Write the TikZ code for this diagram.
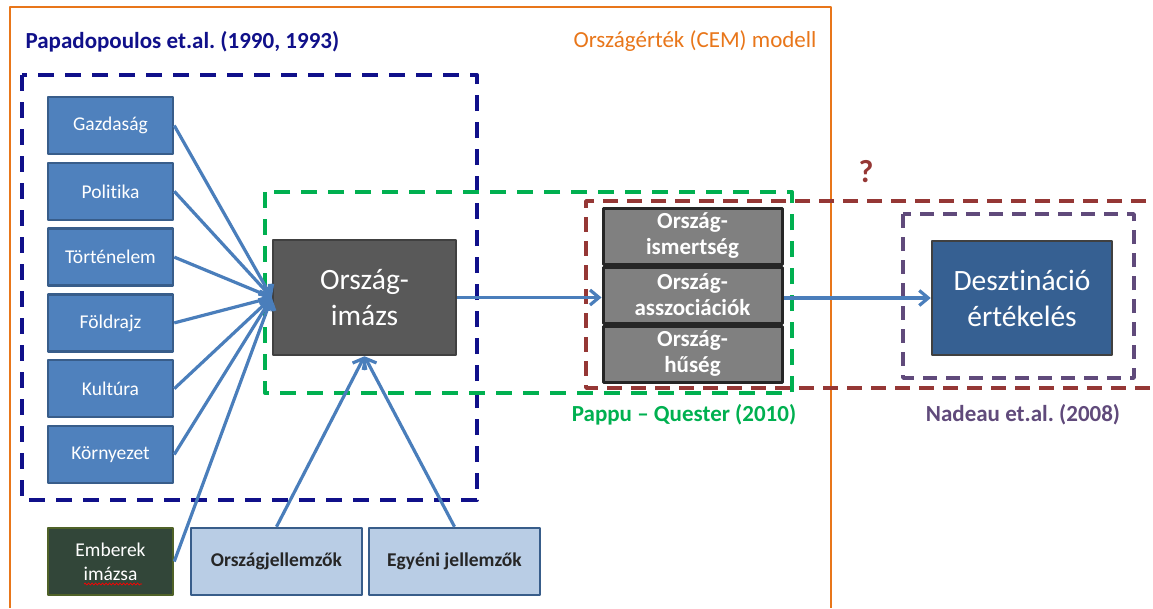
\documentclass[tikz,border=0pt]{standalone}
\usepackage{fontspec}
\setmainfont{Carlito}[Ligatures=NoCommon]
\frenchspacing
\usetikzlibrary{arrows.meta,decorations.pathmorphing}
\definecolor{nyil}{HTML}{4A7EBB}
\definecolor{kek}{HTML}{4F81BD}
\definecolor{kekkeret}{HTML}{385D8A}
\definecolor{halvany}{HTML}{B9CDE5}
\definecolor{sotetkek}{HTML}{366092}
\definecolor{navy}{HTML}{10108A}
\definecolor{zold}{HTML}{00B050}
\definecolor{bordo}{HTML}{953735}
\definecolor{lila}{HTML}{604A7B}
\definecolor{narancs}{HTML}{E8761A}
\definecolor{emberzold}{HTML}{324639}
\definecolor{olajzold}{HTML}{4F6228}
\begin{document}
\begin{tikzpicture}[x=1pt,y=-1pt,line join=round,>={Straight Barb[length=9pt,width=15pt]},
	tenyezo/.style={draw=kekkeret,line width=2.5pt,fill=kek,text=white,minimum width=125pt,minimum height=57pt,inner sep=0pt,font=\fontsize{19.5}{24}\selectfont},
	also/.style={draw=kekkeret,line width=2.5pt,fill=halvany,text=black!85,minimum width=171pt,minimum height=67pt,inner sep=0pt,font=\bfseries\fontsize{19.5}{24}\selectfont},
	nagy/.style={draw=black!75,line width=2.5pt,text=white,minimum width=183pt,minimum height=115pt,inner sep=0pt,align=center,font=\fontsize{29.5}{36}\selectfont},
	rakas/.style={draw=black!85,line width=3pt,fill=black!50,text=white,minimum width=179pt,minimum height=56pt,inner sep=0pt,align=center,font=\bfseries\fontsize{23}{26}\selectfont},
	keret/.style={line width=4pt,dash pattern=on 16pt off 11pt},
	felirat/.style={font=\bfseries\fontsize{23}{28}\selectfont},
	fonyil/.style={->,nyil,line width=3.2pt}]
	\useasboundingbox (0,0) rectangle (1153,608);
	% orszagertek keret
	\draw[narancs,line width=2.5pt] (10,608) |- (831,7) -- (831,608);
	\node[anchor=east,text=narancs,font=\fontsize{23}{28}\selectfont] (cem) at (820,41) {Országérték (CEM) modell};
	\node[anchor=west,text=navy,felirat] (papa) at (22,42) {Papadopoulos et.al. (1990, 1993)};
	% szaggatott keretek
	\draw[keret,navy] (22,75) rectangle (477,500);
	\draw[keret,zold] (265,192) rectangle (792,393);
	\draw[bordo,line width=3.5pt,dash pattern=on 15pt off 9pt] (1170,201) -| (586,388) -- (1170,388);
	\draw[lila,line width=3.5pt,dash pattern=on 14pt off 9pt] (903,214) rectangle (1134,378);
	\node[text=bordo,font=\bfseries\fontsize{32}{36}\selectfont] (kerdes) at (866,172) {?};
	\node[text=zold,felirat] (pappu) at (684,415) {Pappu -- Quester (2010)};
	\node[text=lila,felirat] (nadeau) at (1023,415) {Nadeau et.al. (2008)};
	% csomopontok
	\node[nagy,fill=black!65] (imazs) at (364.5,297.5) {Ország-\\imázs};
	\foreach \i/\t in {0/Gazdaság,1/Politika,2/Történelem,3/Földrajz,4/Kultúra,5/Környezet}{
		\node[tenyezo] (f\i) at (110.5,125.5+65.8*\i) {\t};
		\draw[fonyil] (f\i.east) -- (imazs.west);
	}
	\node[tenyezo,draw=olajzold,fill=emberzold,minimum height=67pt,align=center] (ember) at (110.5,561.5) {Emberek\\imázsa};
	\draw[red,line width=0.7pt,decorate,decoration={snake,amplitude=1pt,segment length=3.5pt}] (84,584) -- (142,584);
	\node[also] (ojell) at (276.5,561.5) {Országjellemzők};
	\node[also] (ejell) at (454.5,561.5) {Egyéni jellemzők};
	\draw[fonyil] (ember.east) -- (imazs.west);
	\draw[fonyil] (ojell.north) -- (imazs.south);
	\draw[fonyil] (ejell.north) -- (imazs.south);
	\node[rakas] (ismert) at (692.5,236) {Ország-\\ismertség};
	\node[rakas] (asszoc) at (692.5,295) {Ország-\\asszociációk};
	\node[rakas] (huseg) at (692.5,354) {Ország-\\hűség};
	\node[nagy,fill=sotetkek,minimum width=180pt,minimum height=114pt] (deszt) at (1022,298) {Desztináció\\értékelés};
	\draw[fonyil] (imazs.east) -- (imazs.east -| asszoc.west);
	\draw[fonyil] (asszoc.east |- deszt.west) -- (deszt.west);
\end{tikzpicture}
\end{document}
